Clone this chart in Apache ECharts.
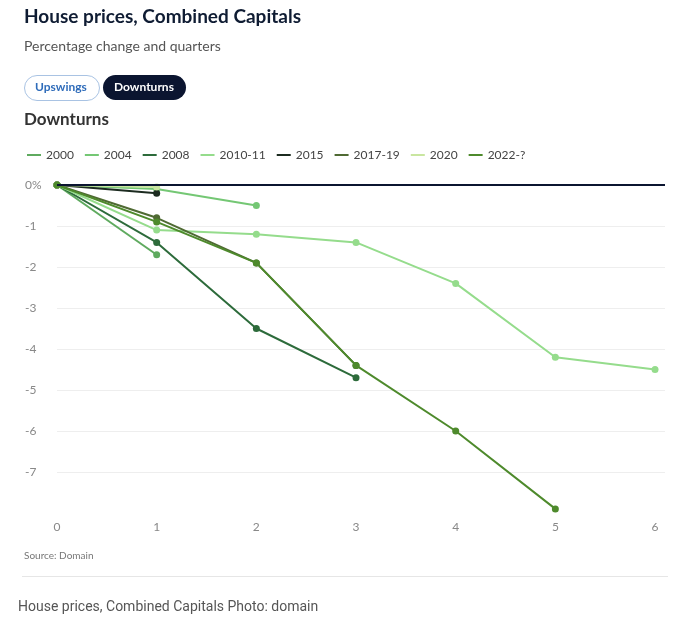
<!DOCTYPE html>
<html><head><meta charset="utf-8">
<script src="https://cdn.jsdelivr.net/npm/echarts@6/dist/echarts.min.js"></script>
<style>html,body{margin:0;padding:0;background:#fff}#c{width:689px;height:640px}</style>
</head><body><div id="c"></div>
<script>
const quarters = [0, 1, 2, 3, 4, 5, 6];
const xTicks = ['0', '1', '2', '3', '4', '5', '6'];
const yTicks = ['0%', '-1', '-2', '-3', '-4', '-5', '-6', '-7'];
const seriesNames = ['2000', '2004', '2008', '2010-11', '2015', '2017-19', '2020', '2022-?'];
const s2000 = [0, -1.7];
const s2004 = [0, -0.1, -0.5];
const s2008 = [0, -1.4, -3.5, -4.7];
const s2010 = [0, -1.1, -1.2, -1.4, -2.4, -4.2, -4.5];
const s2015 = [0, -0.2];
const s2017 = [0, -0.8, -1.9, -4.4];
const s2020 = [0, -0.05];
const s2022 = [0, -0.9, -1.9, -4.4, -6.0, -7.9];
const allValues = [s2000, s2004, s2008, s2010, s2015, s2017, s2020, s2022];
const colors = ['#5faa5f', '#74c774', '#2d6b3b', '#95dc8c', '#1c2b20', '#4f6a33', '#c9e6a0', '#4e8a2c'];

const font = 'Lato, "Noto Sans", sans-serif';
const series = seriesNames.map((n, i) => ({
  name: n, type: 'line',
  data: allValues[i].map((v, k) => [quarters[k], v]),
  symbol: 'circle', symbolSize: 7,
  lineStyle: { width: 2, color: colors[i] },
  itemStyle: { color: colors[i] },
  z: 3 + i
}));
series[0].markLine = {
  silent: true, symbol: ['none', 'none'],
  label: { show: false },
  lineStyle: { color: '#0b1530', width: 2, type: 'solid' },
  data: [{ yAxis: 0 }], z: 20
};

const chart = echarts.init(document.getElementById('c'));
chart.setOption({
  animation: false,
  textStyle: { fontFamily: font },
  color: colors,
  graphic: [
    { type: 'text', left: 24, top: 7, style: { text: 'House prices, Combined Capitals', font: 'bold 19px ' + font, fill: '#0f1c33' } },
    { type: 'text', left: 24, top: 39, style: { text: 'Percentage change and quarters', font: '14px ' + font, fill: '#555' } },
    { type: 'rect', left: 24, top: 75, shape: { width: 75, height: 25, r: 12.5 }, style: { fill: '#fff', stroke: '#a9c3e3', lineWidth: 1 } },
    { type: 'text', left: 35, top: 81, style: { text: 'Upswings', font: 'bold 12px ' + font, fill: '#2f6cba' } },
    { type: 'rect', left: 103, top: 75, shape: { width: 83, height: 25, r: 12.5 }, style: { fill: '#0b1530' } },
    { type: 'text', left: 114, top: 81, style: { text: 'Downturns', font: 'bold 12px ' + font, fill: '#fff' } },
    { type: 'text', left: 24, top: 111, style: { text: 'Downturns', font: 'bold 17px ' + font, fill: '#333' } },
    { type: 'text', left: 24, top: 551, style: { text: 'Source: Domain', font: '10px ' + font, fill: '#777' } },
    { type: 'rect', left: 22, top: 576, shape: { width: 646, height: 1 }, style: { fill: '#e6e6e6' } },
    { type: 'text', left: 18, top: 600, style: { text: 'House prices, Combined Capitals Photo: domain', font: '14px Roboto, sans-serif', fill: '#555' } }
  ],
  legend: {
    left: 22, top: 144,
    icon: 'rect', itemWidth: 14, itemHeight: 2, itemGap: 11,
    textStyle: { color: '#444', fontSize: 12, fontFamily: font },
    data: seriesNames
  },
  grid: { left: 57, right: 24, top: 185, bottom: 127 },
  xAxis: {
    type: 'value', min: 0, max: 6.1, interval: 1,
    axisLine: { show: false }, axisTick: { show: false }, splitLine: { show: false },
    axisLabel: { color: '#888', fontSize: 12, margin: 8,
      formatter: v => (Number.isInteger(v) && v <= 6) ? xTicks[v] : '' }
  },
  yAxis: {
    type: 'value', min: -8, max: 0, interval: 1,
    axisLine: { show: false }, axisTick: { show: false },
    splitLine: { show: true, showMinLine: false, lineStyle: { color: '#eeeeee', width: 1 } },
    axisLabel: { color: '#888', fontSize: 12, align: 'left', margin: 32,
      formatter: v => (v <= 0 && v >= -7) ? yTicks[-v] : '' }
  },
  series: series
});
</script></body></html>
